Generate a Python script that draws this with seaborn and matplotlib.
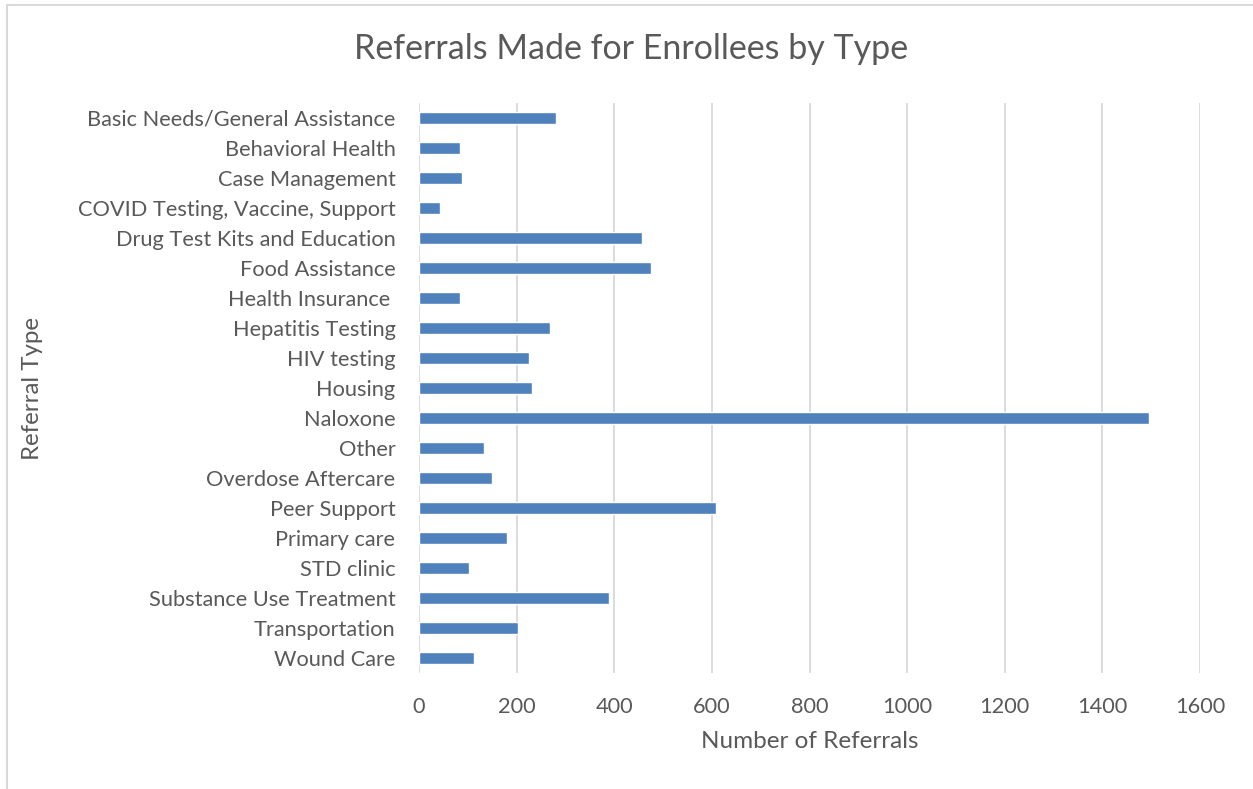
import matplotlib
matplotlib.use("Agg")
import matplotlib.pyplot as plt
import seaborn as sns
import pandas as pd
from matplotlib.lines import Line2D

categories = [
    "Basic Needs/General Assistance", "Behavioral Health", "Case Management",
    "COVID Testing, Vaccine, Support", "Drug Test Kits and Education",
    "Food Assistance", "Health Insurance ", "Hepatitis Testing", "HIV testing",
    "Housing", "Naloxone", "Other", "Overdose Aftercare", "Peer Support",
    "Primary care", "STD clinic", "Substance Use Treatment", "Transportation",
    "Wound Care",
]
referrals = [281, 84, 89, 42, 456, 475, 85, 269, 225, 232, 1495, 133, 149,
             609, 180, 103, 389, 202, 113]
x_ticks = [0, 200, 400, 600, 800, 1000, 1200, 1400, 1600]

df = pd.DataFrame({"Referral Type": categories, "Number of Referrals": referrals})

sns.set_theme(style="white")
plt.rcParams["font.family"] = ["Lato", "DejaVu Sans"]
text_color = "#595959"
grid_color = "#D9D9D9"

fig = plt.figure(figsize=(12.53, 7.89), dpi=100)
ax = fig.add_axes([419 / 1253, 116 / 789, 781 / 1253, 570 / 789])

sns.barplot(data=df, y="Referral Type", x="Number of Referrals", orient="h",
            color="#4F81BD", saturation=1, width=0.38, ax=ax, zorder=3)

ax.set_xlim(0, 1600)
ax.set_ylim(len(categories) - 0.5, -0.5)
ax.set_xticks(x_ticks)
ax.set_xticklabels([str(t) for t in x_ticks])
ax.xaxis.grid(True, color=grid_color, linewidth=1.3, zorder=0)
ax.yaxis.grid(False)
ax.set_axisbelow(True)
for s in ax.spines.values():
    s.set_visible(False)
ax.tick_params(axis="both", length=0, colors=text_color, labelsize=15.7)
ax.tick_params(axis="y", pad=17)
ax.tick_params(axis="x", pad=17)
for lbl in ax.get_xticklabels() + ax.get_yticklabels():
    lbl.set_color(text_color)

ax.set_xlabel("Number of Referrals", fontsize=17.5, color=text_color, labelpad=10)
ax.set_ylabel("Referral Type", fontsize=17.3, color=text_color, labelpad=0)
ax.yaxis.set_label_coords(-(419 - 43) / 781, 0.5)

fig.text(631 / 1253, 1 - 49 / 789, "Referrals Made for Enrollees by Type",
         ha="center", va="center", fontsize=24.5, color=text_color)

# chart frame (left and top edges visible)
fig.add_artist(Line2D([7 / 1253, 7 / 1253], [0, 1 - 5 / 789], transform=fig.transFigure,
                      color=grid_color, linewidth=1.5))
fig.add_artist(Line2D([7 / 1253, 1], [1 - 5 / 789, 1 - 5 / 789], transform=fig.transFigure,
                      color=grid_color, linewidth=1.5))

fig.savefig("out.png", dpi=100)
